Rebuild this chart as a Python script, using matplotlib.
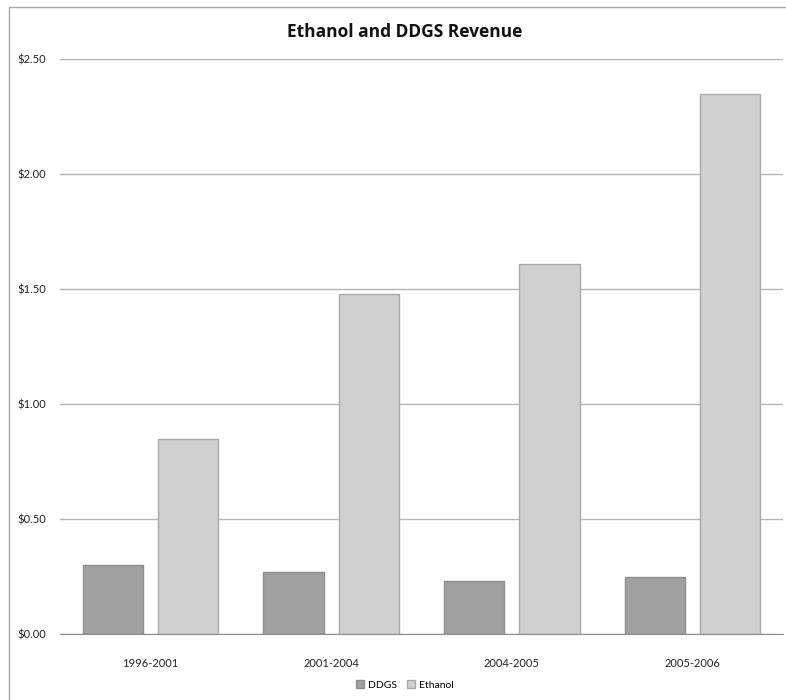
import numpy as np
import matplotlib.pyplot as plt
from matplotlib.patches import Rectangle
from matplotlib.ticker import FuncFormatter

plt.rcParams['font.family'] = ['Lato', 'DejaVu Sans']

# revenue per gallon, by period
periods = ["1996-2001", "2001-2004", "2004-2005", "2005-2006"]
ddgs = [0.30, 0.27, 0.23, 0.25]
ethanol = [0.85, 1.48, 1.61, 2.35]

fig = plt.figure(figsize=(7.86, 7.0), dpi=100)

# outer chart frame
fig.patches.append(Rectangle((9 / 786, -0.1), 1.0, 0.99 + 0.1, transform=fig.transFigure,
                             fill=False, edgecolor="#a6a6a6", linewidth=1.0))

ax = fig.add_axes([60 / 786, 66 / 700, 723 / 786, 575 / 700])

x = np.arange(len(periods))
w = 1 / 3
ax.bar(x - 0.125 * w - w / 2, ddgs, width=w, color="#a0a0a0", edgecolor="#8e8e8e",
       linewidth=1, label="DDGS", zorder=3)
ax.bar(x + 0.125 * w + w / 2, ethanol, width=w, color="#d0d0d0", edgecolor="#a9a9a9",
       linewidth=1, label="Ethanol", zorder=3)

ax.set_xlim(-0.5, len(periods) - 0.5)
ax.set_ylim(0, 2.5)
ax.set_yticks(np.arange(0, 2.51, 0.5))
ax.yaxis.set_major_formatter(FuncFormatter(lambda v, p: f"${v:.2f}"))
ax.set_xticks(x)
ax.set_xticklabels(periods)
ax.tick_params(axis="both", length=0, labelsize=8, labelcolor="#222222")
ax.tick_params(axis="y", pad=10)
ax.tick_params(axis="x", pad=17)
ax.grid(axis="y", color="#b5b5b5", linewidth=1, zorder=0)

for s in ["top", "right", "left"]:
    ax.spines[s].set_visible(False)
ax.spines["bottom"].set_color("#8c8c8c")
ax.spines["bottom"].set_zorder(4)

fig.text(405 / 786, 1 - 32 / 700, "Ethanol and DDGS Revenue", ha="center", va="center",
         fontsize=12.5, fontweight="bold", color="#111111", family="Open Sans")

fig.legend(loc="center", bbox_to_anchor=(405 / 786, 1 - 685 / 700), ncol=2, frameon=False,
           fontsize=7.5, handlelength=0.7, handleheight=0.7, handletextpad=0.4, columnspacing=1.0)

fig.savefig("out.png", dpi=100)
